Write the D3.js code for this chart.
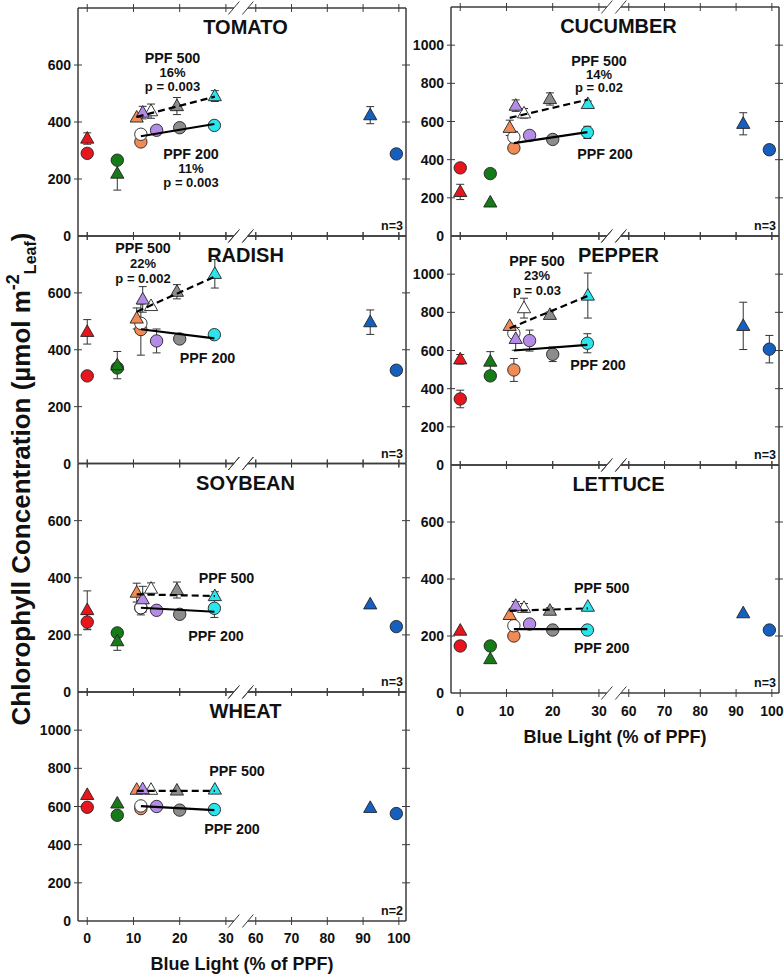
<!DOCTYPE html>
<html>
<head>
<meta charset="utf-8">
<script src="https://cdn.jsdelivr.net/npm/d3@7"></script>
<style>
html,body{margin:0;padding:0;background:#fff;}
svg{display:block;font-family:"Liberation Sans",Arial,sans-serif;font-weight:bold;}
</style>
</head>
<body>
<svg id="chart" width="784" height="974"></svg>
<script>
// ---------------- DATA ----------------
// treatment order: red, green, orange, white, purple, gray, cyan, blue
const treatments = ["Red", "Green", "Orange", "White", "Purple", "Gray", "Cyan", "Blue"];
const treatmentColors = ["#e8161c", "#157a17", "#f28a55", "#ffffff", "#b58be8", "#8c8c8c", "#2ce4ec", "#1560bf"];
// blue-light percentage for each treatment
const blue200 = [0, 6.5, 11.6, 11.6, 15, 20, 27.5, 99.3];   // PPF 200 (circles)
const blue500 = [0, 6.5, 10.7, 13.8, 12, 19.4, 27.6, 92];   // PPF 500 (triangles)
const fitX200 = [11.6, 27.5];
const fitX500 = [10.7, 27.6];

const xTicks = [0, 10, 20, 30, 60, 70, 80, 90, 100];

const crops = ["TOMATO", "CUCUMBER", "RADISH", "PEPPER", "SOYBEAN", "LETTUCE", "WHEAT"];
const yMax = [800, 1200, 800, 1200, 800, 800, 1200];
const nLabels = ["n=3", "n=3", "n=3", "n=3", "n=3", "n=3", "n=2"];

const tomato200 = [290, 266, 330, 357, 371, 380, 388, 288];
const tomato200Err = [0, 0, 0, 0, 0, 0, 0, 0];
const tomato500 = [342, 219, 416, 438, 433, 456, 491, 424];
const tomato500Err = [20, 58, 0, 25, 22, 30, 19, 30];
const tomatoFit200 = [350, 393];
const tomatoFit500 = [418, 489];

const cucumber200 = [357, 327, 461, 518, 527, 506, 543, 452];
const cucumber200Err = [0, 0, 0, 30, 0, 0, 32, 0];
const cucumber500 = [231, 176, 567, 643, 683, 718, 692, 588];
const cucumber500Err = [40, 0, 40, 25, 30, 32, 15, 58];
const cucumberFit200 = [487, 544];
const cucumberFit500 = [619, 715];

const radish200 = [308, 336, 471, 493, 431, 438, 453, 328];
const radish200Err = [0, 0, 90, 0, 42, 0, 0, 0];
const radish500 = [463, 346, 510, 554, 577, 604, 667, 497];
const radish500Err = [43, 48, 37, 0, 45, 25, 50, 43];
const radishFit200 = [472, 440];
const radishFit500 = [534, 657];

const pepper200 = [346, 467, 498, 690, 652, 580, 638, 607];
const pepper200Err = [46, 0, 60, 0, 55, 38, 50, 72];
const pepper500 = [554, 542, 729, 822, 661, 787, 888, 729];
const pepper500Err = [25, 52, 0, 52, 60, 15, 118, 124];
const pepperFit200 = [600, 629];
const pepperFit500 = [717, 886];

const soybean200 = [245, 207, 295, 295, 286, 272, 293, 229];
const soybean200Err = [27, 0, 0, 25, 0, 0, 32, 0];
const soybean500 = [287, 178, 348, 362, 325, 357, 336, 307];
const soybean500Err = [67, 32, 33, 20, 45, 28, 15, 0];
const soybeanFit200 = [295, 281];
const soybeanFit500 = [342, 336];

const lettuce200 = [165, 165, 200, 236, 242, 221, 221, 221];
const lettuce200Err = [0, 0, 0, 0, 0, 0, 0, 0];
const lettuce500 = [219, 119, 274, 299, 306, 289, 303, 280];
const lettuce500Err = [0, 0, 0, 15, 15, 10, 0, 0];
const lettuceFit200 = [224, 224];
const lettuceFit500 = [288, 297];

const wheat200 = [596, 554, 589, 603, 600, 581, 584, 563];
const wheat200Err = [0, 0, 0, 0, 0, 0, 0, 0];
const wheat500 = [661, 616, 688, 688, 691, 684, 689, 593];
const wheat500Err = [0, 0, 0, 0, 0, 0, 0, 0];
const wheatFit200 = [602, 581];
const wheatFit500 = [682, 682];

// annotation texts
const notes500 = [["PPF 500", "16%", "p = 0.003"], ["PPF 500", "14%", "p = 0.02"], ["PPF 500", "22%", "p = 0.002"],
                  ["PPF 500", "23%", "p = 0.03"], ["PPF 500"], ["PPF 500"], ["PPF 500"]];
const notes200 = [["PPF 200", "11%", "p = 0.003"], ["PPF 200"], ["PPF 200"], ["PPF 200"], ["PPF 200"], ["PPF 200"], ["PPF 200"]];

const cropData = [
  [tomato200, tomato200Err, tomato500, tomato500Err, tomatoFit200, tomatoFit500],
  [cucumber200, cucumber200Err, cucumber500, cucumber500Err, cucumberFit200, cucumberFit500],
  [radish200, radish200Err, radish500, radish500Err, radishFit200, radishFit500],
  [pepper200, pepper200Err, pepper500, pepper500Err, pepperFit200, pepperFit500],
  [soybean200, soybean200Err, soybean500, soybean500Err, soybeanFit200, soybeanFit500],
  [lettuce200, lettuce200Err, lettuce500, lettuce500Err, lettuceFit200, lettuceFit500],
  [wheat200, wheat200Err, wheat500, wheat500Err, wheatFit200, wheatFit500]
];

// ---------------- LAYOUT ----------------
const panels = [
  {x0: 78, x1: 406, top: 8, h: 228},
  {x0: 451, x1: 779, top: 7, h: 229},
  {x0: 78, x1: 406, top: 236, h: 227.5},
  {x0: 451, x1: 779, top: 236, h: 229},
  {x0: 78, x1: 406, top: 463.5, h: 228.5},
  {x0: 451, x1: 779, top: 465, h: 228},
  {x0: 78, x1: 406, top: 692, h: 229}
];
// annotation anchors relative to panel: [dx center, dy baseline of first line]
const note500Pos = [[94.5, 54.7], [148, 58.7], [65, 16.7], [86, 30], [148.5, 119.2], [150.7, 127.7], [159, 84]];
const note200Pos = [[113, 151], [154, 151.7], [129.5, 126.7], [147, 134], [138, 177.5], [150.7, 188.3], [154, 142]];
const lineStep = [[14, 14], [14.3, 13.3], [14, 15], [14.7, 14.3], [14, 14], [14, 14], [14, 14]];

const axisColor = "#3c3c3c";
const svg = d3.select("#chart");

function drawPanel(i) {
  const p = panels[i];
  const W = p.x1 - p.x0;
  const x = d3.scaleLinear().domain([-2, 30, 60, 102])
    .range([p.x0, p.x0 + 0.451 * W, p.x0 + 0.542 * W, p.x1]);
  const y = d3.scaleLinear().domain([0, yMax[i]]).range([p.top + p.h, p.top]);
  const g = svg.append("g");
  const bottom = p.top + p.h;
  const mid = (x(30) + x(60)) / 2;

  // frame with break
  [p.top, bottom].forEach(yy => {
    g.append("line").attr("x1", p.x0).attr("x2", mid - 7).attr("y1", yy).attr("y2", yy)
      .attr("stroke", axisColor).attr("stroke-width", 1.5);
    g.append("line").attr("x1", mid + 7).attr("x2", p.x1).attr("y1", yy).attr("y2", yy)
      .attr("stroke", axisColor).attr("stroke-width", 1.5);
    [-7, 7].forEach(o => {
      g.append("line").attr("x1", mid + o - 5.5).attr("y1", yy + 6.5)
        .attr("x2", mid + o + 5.5).attr("y2", yy - 6.5)
        .attr("stroke", axisColor).attr("stroke-width", 1);
    });
    g.selectAll(null).data(xTicks).join("line")
      .attr("x1", d => x(d)).attr("x2", d => x(d))
      .attr("y1", yy - 4).attr("y2", yy + 4)
      .attr("stroke", axisColor).attr("stroke-width", 1);
  });
  [p.x0, p.x1].forEach(xx => {
    g.append("line").attr("x1", xx).attr("x2", xx).attr("y1", p.top).attr("y2", bottom)
      .attr("stroke", axisColor).attr("stroke-width", 1.5);
    g.selectAll(null).data(d3.range(200, yMax[i], 200)).join("line")
      .attr("x1", xx - 4).attr("x2", xx + 4)
      .attr("y1", d => y(d)).attr("y2", d => y(d))
      .attr("stroke", axisColor).attr("stroke-width", 1);
  });

  // y tick labels
  g.selectAll(null).data(d3.range(0, yMax[i], 200)).join("text")
    .attr("x", p.x0 - 7).attr("y", d => y(d) + 5)
    .attr("text-anchor", "end").attr("font-size", 14).attr("fill", "#111")
    .text(d => d);

  // title
  g.append("text").attr("x", p.x0 + 167.5).attr("y", p.top + 26)
    .attr("text-anchor", "middle").attr("font-size", 20).attr("fill", "#111")
    .text(crops[i]);

  // n label
  g.append("text").attr("x", p.x1 - 3).attr("y", bottom - 6)
    .attr("text-anchor", "end").attr("font-size", 12.5).attr("fill", "#111")
    .text(nLabels[i]);

  const [v200, e200, v500, e500, f200, f500] = cropData[i];
  const pts200 = treatments.map((t, k) => ({x: blue200[k], v: v200[k], e: e200[k], c: treatmentColors[k]}));
  const pts500 = treatments.map((t, k) => ({x: blue500[k], v: v500[k], e: e500[k], c: treatmentColors[k]}));

  // error bars
  const errs = pts200.concat(pts500).filter(d => d.e > 0);
  const eg = g.append("g").attr("stroke", "#333").attr("stroke-width", 1);
  errs.forEach(d => {
    eg.append("line").attr("x1", x(d.x)).attr("x2", x(d.x)).attr("y1", y(d.v - d.e)).attr("y2", y(d.v + d.e));
    eg.append("line").attr("x1", x(d.x) - 4).attr("x2", x(d.x) + 4).attr("y1", y(d.v - d.e)).attr("y2", y(d.v - d.e));
    eg.append("line").attr("x1", x(d.x) - 4).attr("x2", x(d.x) + 4).attr("y1", y(d.v + d.e)).attr("y2", y(d.v + d.e));
  });

  // circles (PPF 200)
  g.selectAll(null).data(pts200).join("circle")
    .attr("cx", d => x(d.x)).attr("cy", d => y(d.v)).attr("r", 6.2)
    .attr("fill", d => d.c).attr("stroke", "#222").attr("stroke-width", 0.9);
  // triangles (PPF 500)
  g.selectAll(null).data(pts500).join("path")
    .attr("transform", d => `translate(${x(d.x)},${y(d.v)})`)
    .attr("d", "M0,-7L6.6,4.6L-6.6,4.6Z")
    .attr("fill", d => d.c).attr("stroke", "#222").attr("stroke-width", 0.9);

  // regression lines
  g.append("line").attr("x1", x(fitX200[0])).attr("y1", y(f200[0]))
    .attr("x2", x(fitX200[1])).attr("y2", y(f200[1]))
    .attr("stroke", "#000").attr("stroke-width", 2.2);
  g.append("line").attr("x1", x(fitX500[0])).attr("y1", y(f500[0]))
    .attr("x2", x(fitX500[1])).attr("y2", y(f500[1]))
    .attr("stroke", "#000").attr("stroke-width", 2.2).attr("stroke-dasharray", "7,4");

  // annotations
  const addNote = (lines, pos) => {
    lines.forEach((t, k) => {
      g.append("text").attr("x", p.x0 + pos[0])
        .attr("y", p.top + pos[1] + k * lineStep[i][k === 0 ? 0 : 1])
        .attr("text-anchor", "middle")
        .attr("font-size", k === 0 ? 14.3 : 13).attr("fill", "#111")
        .text(t);
    });
  };
  addNote(notes500[i], note500Pos[i]);
  addNote(notes200[i], note200Pos[i]);

  return x;
}

const scales = crops.map((c, i) => drawPanel(i));

// x tick labels + axis titles on bottom panels
[[6, 943, 970], [5, 716, 743]].forEach(([i, ty, ly]) => {
  const x = scales[i];
  const p = panels[i];
  svg.append("g").selectAll("text").data(xTicks).join("text")
    .attr("x", d => x(d)).attr("y", ty).attr("text-anchor", "middle")
    .attr("font-size", 14).attr("fill", "#111").text(d => d);
  svg.append("text").attr("x", (p.x0 + p.x1) / 2 - 0).attr("y", ly)
    .attr("text-anchor", "middle").attr("font-size", 18).attr("fill", "#111")
    .text("Blue Light (% of PPF)");
});

// y axis title
const yt = svg.append("text").attr("transform", "translate(30,479) rotate(-90)")
  .attr("text-anchor", "middle").attr("font-size", 26).attr("fill", "#111");
yt.append("tspan").text("Chlorophyll Concentration (µmol m");
yt.append("tspan").attr("font-size", 18).attr("dy", -11).text("-2");
yt.append("tspan").attr("font-size", 16).attr("dy", 17).text("Leaf");
yt.append("tspan").attr("dy", -6).text(")");
</script>
</body>
</html>
